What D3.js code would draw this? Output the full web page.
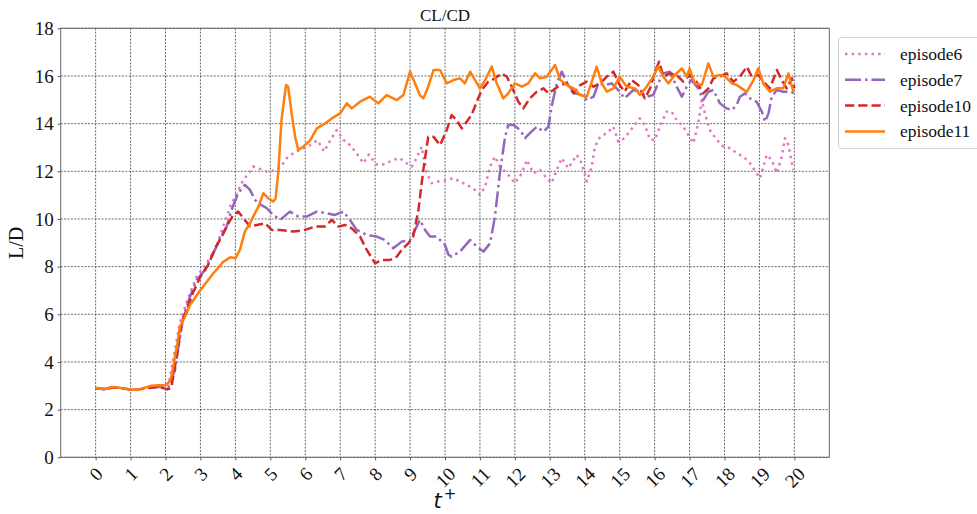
<!DOCTYPE html>
<html><head><meta charset="utf-8">
<script src="https://cdn.jsdelivr.net/npm/d3@7"></script>
<style>body{margin:0;background:#fff} svg{display:block}</style>
</head><body><svg id="c" width="977" height="514"></svg>
<script>
// ---------------- data ----------------
const xTickValues = [0,1,2,3,4,5,6,7,8,9,10,11,12,13,14,15,16,17,18,19,20];
const yTickValues = [0,2,4,6,8,10,12,14,16,18];
const titleText = "CL/CD";
const yLabelText = "L/D";
const seriesNames = ["episode6","episode7","episode10","episode11"];

const episode6 = [[0,2.9],[0.25,2.86],[0.5,2.93],[0.75,2.9],[1.0,2.84],[1.2,2.83],[1.4,2.9],[1.6,2.94],[1.8,2.97],[1.95,2.95],[2.08,2.97],[2.22,4.1],[2.41,5.62],[2.6,6.5],[2.89,7.58],[3.18,8.14],[3.46,8.84],[3.65,9.68],[3.85,10.52],[4.04,11.08],[4.23,11.64],[4.42,11.99],[4.51,12.2],[4.7,12.1],[4.9,11.99],[5.08,12.02],[5.28,12.15],[5.47,12.55],[5.66,12.76],[5.85,12.9],[6.14,13.1],[6.35,13.3],[6.54,12.83],[6.71,13.28],[6.9,13.73],[7.09,13.32],[7.28,13.1],[7.47,12.76],[7.66,12.34],[7.82,12.7],[8.02,12.3],[8.2,12.27],[8.33,12.34],[8.52,12.48],[8.71,12.55],[8.9,12.34],[9.05,12.2],[9.19,12.55],[9.33,13.03],[9.48,11.92],[9.62,11.5],[9.81,11.57],[10.0,11.62],[10.24,11.71],[10.43,11.57],[10.62,11.43],[10.81,11.29],[11.0,11.01],[11.15,11.36],[11.29,12.2],[11.43,12.62],[11.57,12.2],[11.77,11.92],[12.0,11.5],[12.2,11.92],[12.34,12.48],[12.53,11.92],[12.72,12.06],[12.91,11.71],[13.05,11.5],[13.2,12.06],[13.34,12.55],[13.53,12.13],[13.77,12.69],[13.91,12.34],[14.06,11.57],[14.2,12.2],[14.29,13.03],[14.44,13.45],[14.63,13.6],[14.82,13.87],[14.96,13.24],[15.14,13.39],[15.39,13.87],[15.58,14.22],[15.72,13.94],[15.87,13.32],[16.01,13.32],[16.15,13.87],[16.34,14.5],[16.49,14.5],[16.63,14.15],[16.82,13.87],[17.0,13.45],[17.11,13.18],[17.25,14.01],[17.35,14.99],[17.44,14.43],[17.58,13.73],[17.78,13.32],[17.97,13.03],[18.16,12.97],[18.35,12.76],[18.54,12.62],[18.73,12.34],[18.92,11.92],[19.02,11.71],[19.21,12.69],[19.35,12.48],[19.5,11.92],[19.64,12.62],[19.73,13.39],[19.83,13.1],[19.97,12.06]];

const episode7 = [[0,2.9],[0.25,2.86],[0.5,2.93],[0.75,2.9],[1.0,2.84],[1.2,2.83],[1.4,2.9],[1.6,2.93],[1.8,2.96],[1.95,2.92],[2.08,2.9],[2.27,3.66],[2.37,4.64],[2.51,5.9],[2.7,6.74],[2.89,7.44],[3.13,7.86],[3.37,8.56],[3.56,9.19],[3.75,9.68],[3.89,10.38],[4.08,11.08],[4.27,11.43],[4.42,11.22],[4.56,10.8],[4.7,10.62],[4.9,10.45],[5.08,10.17],[5.28,9.96],[5.56,10.31],[5.8,10.1],[6.04,10.1],[6.33,10.31],[6.61,10.24],[6.85,10.17],[7.09,10.31],[7.28,9.96],[7.47,9.54],[7.76,9.33],[8.05,9.26],[8.28,9.12],[8.52,8.77],[8.76,9.05],[9.0,9.12],[9.19,9.68],[9.28,9.96],[9.43,9.54],[9.57,9.26],[9.76,9.26],[10.0,8.91],[10.1,8.5],[10.19,8.42],[10.43,8.63],[10.72,9.12],[10.91,8.84],[11.1,8.63],[11.29,8.98],[11.43,10.1],[11.57,11.92],[11.72,13.45],[11.81,13.94],[11.96,13.94],[12.15,13.73],[12.29,13.39],[12.43,13.6],[12.63,13.87],[12.82,13.66],[12.96,13.87],[13.05,14.71],[13.2,15.69],[13.34,16.18],[13.53,15.62],[13.72,15.27],[13.91,15.2],[14.06,14.99],[14.25,15.13],[14.39,15.69],[14.58,15.62],[14.77,15.69],[14.96,15.41],[15.14,15.06],[15.39,15.41],[15.58,15.34],[15.77,15.13],[15.96,15.2],[16.1,15.69],[16.25,16.11],[16.44,16.18],[16.63,15.55],[16.78,15.13],[16.92,15.55],[17.05,15.83],[17.25,15.48],[17.39,14.99],[17.54,15.34],[17.68,15.41],[17.87,14.85],[18.06,14.64],[18.21,14.57],[18.35,14.78],[18.44,15.13],[18.59,15.27],[18.78,14.99],[18.92,14.92],[19.07,14.5],[19.16,14.08],[19.26,14.43],[19.35,15.13],[19.5,15.41],[19.68,15.34],[19.88,15.34],[20.0,15.27]];

const episode10 = [[0,2.9],[0.25,2.87],[0.5,2.93],[0.75,2.9],[1.0,2.84],[1.2,2.83],[1.4,2.9],[1.6,2.92],[1.8,2.95],[1.95,2.9],[2.05,2.85],[2.12,2.88],[2.17,2.96],[2.32,4.22],[2.46,5.62],[2.6,6.18],[2.8,6.95],[3.0,7.58],[3.22,8.07],[3.42,8.77],[3.61,9.26],[3.8,9.82],[3.94,10.17],[4.08,10.31],[4.23,10.03],[4.42,9.68],[4.61,9.75],[4.85,9.82],[5.04,9.54],[5.28,9.54],[5.66,9.47],[5.99,9.54],[6.28,9.68],[6.56,9.68],[6.76,9.96],[6.95,9.68],[7.14,9.75],[7.33,9.61],[7.57,9.26],[7.76,8.7],[8.0,8.14],[8.19,8.28],[8.43,8.28],[8.62,8.42],[8.76,8.7],[8.95,8.98],[9.09,9.26],[9.24,10.38],[9.38,12.06],[9.52,13.45],[9.67,13.45],[9.86,13.1],[10.05,13.73],[10.19,14.36],[10.33,14.15],[10.48,13.8],[10.62,14.08],[10.76,14.36],[10.91,14.92],[11.05,15.41],[11.24,15.76],[11.43,15.9],[11.62,16.11],[11.77,15.97],[11.91,15.55],[12.1,14.92],[12.24,14.64],[12.43,15.06],[12.63,15.34],[12.82,15.48],[12.96,15.27],[13.1,15.41],[13.3,15.62],[13.49,15.69],[13.68,15.27],[13.87,15.62],[14.06,15.76],[14.25,15.55],[14.44,15.69],[14.63,15.97],[14.82,16.18],[15.0,15.62],[15.14,15.34],[15.34,15.83],[15.53,15.62],[15.72,15.06],[15.87,15.48],[16.01,16.18],[16.13,16.6],[16.25,15.97],[16.44,16.11],[16.63,16.04],[16.82,15.76],[17.0,16.04],[17.2,15.76],[17.39,15.27],[17.54,15.48],[17.68,15.9],[17.87,15.97],[18.06,16.11],[18.25,15.76],[18.44,15.97],[18.64,16.39],[18.78,15.97],[18.97,16.04],[19.16,15.69],[19.3,15.48],[19.5,16.25],[19.64,15.83],[19.78,15.48],[19.93,15.9],[20.0,15.48]];

const episode11 = [[0,2.92],[0.2,2.86],[0.5,2.95],[0.8,2.9],[1.0,2.85],[1.17,2.82],[1.4,2.92],[1.6,3.0],[1.8,3.02],[2.0,3.03],[2.1,3.15],[2.17,3.4],[2.34,4.78],[2.41,5.48],[2.56,5.9],[2.7,6.39],[3.0,7.02],[3.37,7.72],[3.65,8.2],[3.85,8.39],[4.0,8.35],[4.13,8.7],[4.27,9.47],[4.42,9.82],[4.51,10.1],[4.66,10.52],[4.8,11.08],[4.94,10.87],[5.08,10.73],[5.15,10.85],[5.23,12.0],[5.32,14.15],[5.45,15.62],[5.51,15.55],[5.61,14.43],[5.71,13.45],[5.8,12.9],[5.94,13.03],[6.14,13.3],[6.33,13.8],[6.56,14.0],[6.76,14.22],[7.0,14.43],[7.19,14.85],[7.33,14.64],[7.57,14.92],[7.85,15.13],[8.09,14.85],[8.33,15.2],[8.62,14.99],[8.81,15.2],[9.0,16.18],[9.14,15.69],[9.28,15.2],[9.38,15.06],[9.52,15.55],[9.67,16.25],[9.86,16.25],[10.05,15.69],[10.24,15.83],[10.43,15.9],[10.57,15.69],[10.72,16.18],[10.86,15.83],[11.0,15.48],[11.15,15.83],[11.34,16.39],[11.48,15.69],[11.67,15.06],[11.81,15.27],[12.0,15.69],[12.2,15.55],[12.38,15.69],[12.58,16.11],[12.72,15.9],[12.91,15.97],[13.15,16.46],[13.3,15.83],[13.49,15.62],[13.68,15.48],[13.87,15.2],[14.06,15.13],[14.25,15.97],[14.34,16.39],[14.49,15.69],[14.63,15.34],[14.82,15.48],[15.0,15.97],[15.2,15.55],[15.44,15.48],[15.58,15.2],[15.77,15.55],[15.96,15.97],[16.1,16.39],[16.25,15.97],[16.39,15.69],[16.58,16.04],[16.78,16.32],[16.92,15.97],[17.0,16.32],[17.15,15.69],[17.35,15.62],[17.54,16.53],[17.68,15.97],[17.87,16.04],[18.02,15.97],[18.21,15.69],[18.35,15.62],[18.49,15.48],[18.64,15.34],[18.83,15.83],[18.97,16.32],[19.11,15.69],[19.3,15.34],[19.5,15.48],[19.68,15.48],[19.83,16.11],[19.97,15.34]];

// ---------------- drawing ----------------
const seriesData = [episode6, episode7, episode10, episode11];
const colors = ["#e377c2","#9467bd","#d62728","#ff7f0e"];
const lw = 2.5;
const dashes = [[1*lw,1.65*lw],[6.4*lw,1.6*lw,1*lw,1.6*lw],[3.7*lw,1.6*lw],null];

const svg = d3.select("#c");
const L = 60.7, R = 829.3, T = 28.3, B = 457.3;
const x = d3.scaleLinear().domain([-1,21]).range([L,R]);
const y = d3.scaleLinear().domain([0,18]).range([B,T]);
const serif = "'Liberation Serif','Times New Roman',serif";

svg.append("rect").attr("width",977).attr("height",514).attr("fill","#fff");

// grid
const grid = svg.append("g").attr("stroke","#3a3a3a").attr("stroke-width",0.75).attr("stroke-dasharray","2,1.4");
grid.selectAll("line.v").data(xTickValues).join("line")
  .attr("x1",d=>x(d)).attr("x2",d=>x(d)).attr("y1",T).attr("y2",B);
grid.selectAll("line.h").data(yTickValues).join("line")
  .attr("class","h").attr("y1",d=>y(d)).attr("y2",d=>y(d)).attr("x1",L).attr("x2",R);

// series
const line = d3.line().x(d=>x(d[0])).y(d=>y(d[1])).curve(d3.curveLinear);
svg.append("clipPath").attr("id","pc").append("rect")
  .attr("x",L).attr("y",T).attr("width",R-L).attr("height",B-T);
const lines = svg.append("g").attr("clip-path","url(#pc)");
seriesData.forEach((s,i)=>{
  lines.append("path").attr("d",line(s)).attr("fill","none")
    .attr("stroke",colors[i]).attr("stroke-width",lw)
    .attr("stroke-linejoin","round")
    .attr("stroke-dasharray",dashes[i]?dashes[i].join(","):null);
});

// axes
const yAxis = d3.axisLeft(y).tickValues(yTickValues).tickSize(3).tickPadding(4);
const gy = svg.append("g").attr("transform",`translate(${L},0)`).call(yAxis);
gy.select(".domain").remove();
gy.selectAll("line").attr("stroke","#555");
gy.selectAll("text").attr("font-family",serif).attr("font-size",19).attr("fill","#111");

const xAxis = d3.axisBottom(x).tickValues(xTickValues).tickSize(3).tickFormat(d3.format("d"));
const gx = svg.append("g").attr("transform",`translate(0,${B})`).call(xAxis);
gx.select(".domain").remove();
gx.selectAll("line").attr("stroke","#555");
gx.selectAll("text").each(function(d){
  const t = d3.select(this);
  t.attr("font-family",serif).attr("font-size",19).attr("fill","#111")
   .attr("y",null).attr("dy",null).attr("text-anchor","middle").attr("dominant-baseline","central");
  const w = this.getComputedTextLength();
  const h = 0.66*19;
  const cy = 9 + (w+h)*0.7071/2;
  t.attr("transform",`translate(0,${cy}) rotate(-45)`);
});

// frame
svg.append("rect").attr("x",L).attr("y",T).attr("width",R-L).attr("height",B-T)
  .attr("fill","none").attr("stroke","#666").attr("stroke-width",1);

// title & labels
svg.append("text").attr("x",(L+R)/2).attr("y",21).attr("text-anchor","middle")
  .attr("font-family",serif).attr("font-size",17).attr("fill","#111").text(titleText);
svg.append("text").attr("transform",`translate(23,${(T+B)/2}) rotate(-90)`)
  .attr("text-anchor","middle").attr("font-family",serif).attr("font-size",20).attr("fill","#111").text(yLabelText);
const xl = svg.append("text").attr("x",(L+R)/2).attr("y",508).attr("text-anchor","middle")
  .attr("font-family","'DejaVu Sans',sans-serif").attr("font-size",21).attr("fill","#111");
xl.append("tspan").attr("font-style","italic").text("t");
xl.append("tspan").attr("dx",2).attr("dy",-9).attr("font-size",15).text("+");

// legend
const lg = svg.append("g");
lg.append("rect").attr("x",838.5).attr("y",37.5).attr("width",150).attr("height",111).attr("rx",3)
  .attr("fill","#fff").attr("fill-opacity",0.8).attr("stroke","#d0d0d0");
seriesNames.forEach((n,i)=>{
  const yy = 54 + i*25.8;
  lg.append("line").attr("x1",845).attr("x2",885).attr("y1",yy).attr("y2",yy)
    .attr("stroke",colors[i]).attr("stroke-width",lw)
    .attr("stroke-dasharray",dashes[i]?dashes[i].join(","):null);
  lg.append("text").attr("x",900).attr("y",yy).attr("dominant-baseline","central")
    .attr("font-family",serif).attr("font-size",17.5).attr("fill","#111").text(n);
});
</script></body></html>
